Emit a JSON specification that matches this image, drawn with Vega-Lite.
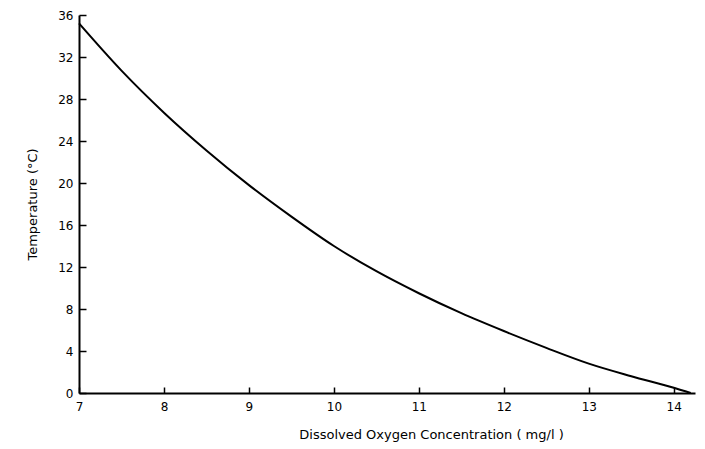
{
  "$schema": "https://vega.github.io/schema/vega-lite/v6.json",
  "autosize": "none",
  "width": 616,
  "height": 378,
  "padding": {"left": 79, "top": 15, "right": 10, "bottom": 56},
  "background": "white",
  "config": {
    "view": {"stroke": null},
    "font": "DejaVu Sans",
    "axis": {
      "domainColor": "black",
      "domainWidth": 2,
      "tickColor": "black",
      "tickWidth": 1.5,
      "labelColor": "black",
      "titleColor": "black",
      "labelFont": "DejaVu Sans",
      "titleFont": "DejaVu Sans",
      "labelFontSize": 12,
      "titleFontSize": 13,
      "titleFontWeight": "normal",
      "grid": false
    }
  },
  "data": {
    "values": [
      {"do": 7.0, "t": 35.2},
      {"do": 7.5, "t": 30.7},
      {"do": 8.0, "t": 26.7},
      {"do": 8.5, "t": 23.1},
      {"do": 9.0, "t": 19.8},
      {"do": 9.5, "t": 16.8},
      {"do": 10.0, "t": 14.0},
      {"do": 10.5, "t": 11.6},
      {"do": 11.0, "t": 9.5},
      {"do": 11.5, "t": 7.6},
      {"do": 12.0, "t": 5.9},
      {"do": 12.5, "t": 4.3},
      {"do": 13.0, "t": 2.8},
      {"do": 13.5, "t": 1.6},
      {"do": 14.0, "t": 0.5},
      {"do": 14.2, "t": 0.0}
    ]
  },
  "mark": {"type": "line", "color": "black", "strokeWidth": 2, "interpolate": "monotone"},
  "encoding": {
    "x": {
      "field": "do",
      "type": "quantitative",
      "scale": {"domain": [7, 14.25], "nice": false, "zero": false},
      "axis": {
        "title": "Dissolved Oxygen Concentration ( mg/l )",
        "values": [7, 8, 9, 10, 11, 12, 13, 14],
        "tickSize": -6,
        "labelPadding": 14,
        "titleX": 352,
        "titlePadding": 16,
        "labelFlush": false
      }
    },
    "y": {
      "field": "t",
      "type": "quantitative",
      "scale": {"domain": [0, 36], "nice": false},
      "axis": {
        "title": "Temperature (°C)",
        "values": [0, 4, 8, 12, 16, 20, 24, 28, 32, 36],
        "tickSize": -7,
        "labelPadding": 13,
        "titlePadding": 18,
        "labelFlush": false
      }
    }
  }
}
